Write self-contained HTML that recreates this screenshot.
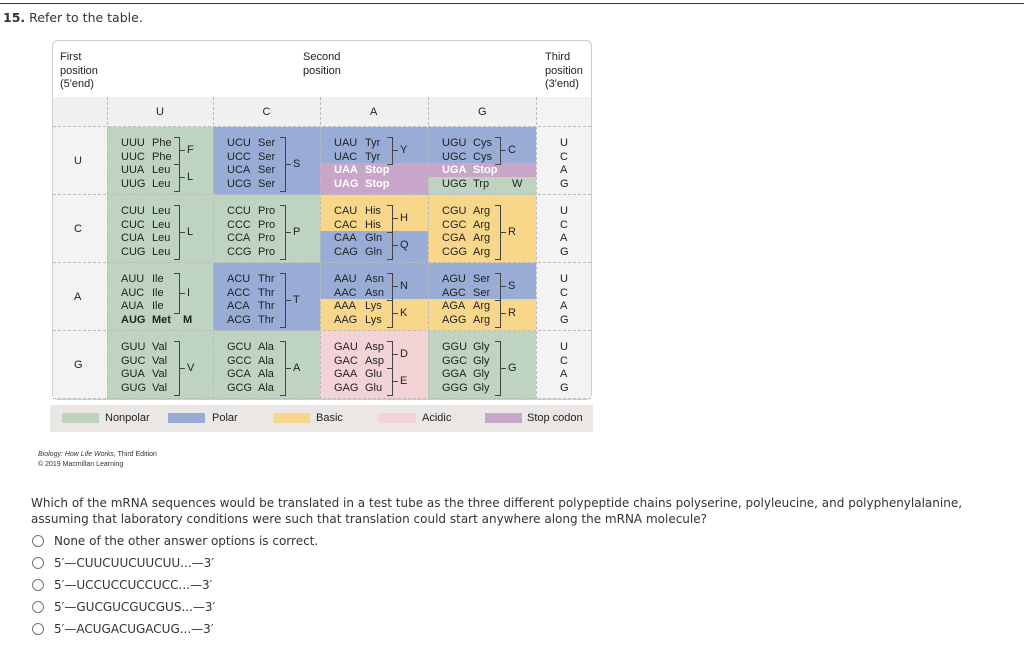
<!DOCTYPE html>
<html><head><meta charset="utf-8">
<style>
body{margin:0;width:1024px;height:648px;background:#fff;position:relative;overflow:hidden;font-family:"DejaVu Sans","Liberation Sans",sans-serif;}
.a{position:absolute;}
.t{position:absolute;font-family:"Liberation Sans",sans-serif;font-size:11px;color:#222;white-space:nowrap;line-height:12px;}
.q{position:absolute;font-size:12px;color:#333;white-space:nowrap;}
.radio{position:absolute;width:10px;height:10px;border:1.5px solid #777;border-radius:50%;}
</style></head><body>
<div class="a" style="left:0;top:3px;width:1024px;height:1px;background:#333"></div>
<div class="q" style="left:3px;top:10px;font-size:12.5px;"><b>15.</b> Refer to the table.</div>

<div id="table" class="a" style="left:52px;top:40px;width:540px;height:360px;border:1px solid #ccc;border-radius:6px;background:#fff;overflow:hidden;box-sizing:border-box"></div>
<div id="legend" class="a" style="left:50px;top:405px;width:543px;height:27px;background:#ebe7e5"></div>

<div class="t" style="left:38px;top:450px;font-size:7px;line-height:10px;color:#333"><i>Biology: How Life Works</i>, Third Edition<br>© 2019 Macmillan Learning</div>

<div class="q" style="left:31px;top:495px;line-height:16px;">Which of the mRNA sequences would be translated in a test tube as the three different polypeptide chains polyserine, polyleucine, and polyphenylalanine,<br>assuming that laboratory conditions were such that translation could start anywhere along the mRNA molecule?</div>

<div class="radio" style="left:32px;top:535px"></div>
<div class="q" style="left:54px;top:534px">None of the other answer options is correct.</div>
<div class="radio" style="left:32px;top:557px"></div>
<div class="q" style="left:54px;top:556px">5′—CUUCUUCUUCUU...—3′</div>
<div class="radio" style="left:32px;top:579px"></div>
<div class="q" style="left:54px;top:578px">5′—UCCUCCUCCUCC...—3′</div>
<div class="radio" style="left:32px;top:601px"></div>
<div class="q" style="left:54px;top:600px">5′—GUCGUCGUCGUS...—3′</div>
<div class="radio" style="left:32px;top:623px"></div>
<div class="q" style="left:54px;top:622px">5′—ACUGACUGACUG...—3′</div>

<script>
var bases=["U","C","A","G"];
var colX=[107,213,320,428,536];
var rowY=[127,195,263,331,399];
var COL={n:"#bfd3c1",p:"#98acd6",b:"#f9d78a",a:"#f4d3d6",s:"#c9a5c9"};
var aa3=[
 ["Phe","Phe","Leu","Leu","Ser","Ser","Ser","Ser","Tyr","Tyr","Stop","Stop","Cys","Cys","Stop","Trp"],
 ["Leu","Leu","Leu","Leu","Pro","Pro","Pro","Pro","His","His","Gln","Gln","Arg","Arg","Arg","Arg"],
 ["Ile","Ile","Ile","Met","Thr","Thr","Thr","Thr","Asn","Asn","Lys","Lys","Ser","Ser","Arg","Arg"],
 ["Val","Val","Val","Val","Ala","Ala","Ala","Ala","Asp","Asp","Glu","Glu","Gly","Gly","Gly","Gly"]];
var cls=[
 ["n","n","n","n","p","p","p","p","p","p","s","s","p","p","s","n"],
 ["n","n","n","n","n","n","n","n","b","b","p","p","b","b","b","b"],
 ["n","n","n","n","p","p","p","p","p","p","b","b","p","p","b","b"],
 ["n","n","n","n","n","n","n","n","a","a","a","a","n","n","n","n"]];
var groups=[[0,0,0,1,"F"],[0,0,2,3,"L"],[0,1,0,3,"S"],[0,2,0,1,"Y"],[0,3,0,1,"C"],
 [1,0,0,3,"L"],[1,1,0,3,"P"],[1,2,0,1,"H"],[1,2,2,3,"Q"],[1,3,0,3,"R"],
 [2,0,0,2,"I"],[2,1,0,3,"T"],[2,2,0,1,"N"],[2,2,2,3,"K"],[2,3,0,1,"S"],[2,3,2,3,"R"],
 [3,0,0,3,"V"],[3,1,0,3,"A"],[3,2,0,1,"D"],[3,2,2,3,"E"],[3,3,0,3,"G"]];
var lineOff=[16,30,43,57];
var segB=[0,22,36,50,68];
function mk(tag,l,t,w,h,bg){var d=document.createElement(tag);d.className="a";d.style.left=l+"px";d.style.top=t+"px";if(w!=null)d.style.width=w+"px";if(h!=null)d.style.height=h+"px";if(bg)d.style.background=bg;document.body.appendChild(d);return d;}
function txt(s,l,t,extra){var d=document.createElement("div");d.className="t";d.textContent=s;d.style.left=l+"px";d.style.top=t+"px";if(extra)d.style.cssText+=extra;document.body.appendChild(d);return d;}
var hb=mk("div",53,97,538,30,"#f0f0f0");


var fc=mk("div",53,127,54,272,"#f3f3f3");


var tc=mk("div",536,97,55,302,"#f3f3f3");


var h1=txt("First\nposition\n(5′end)",60,51,"white-space:pre;line-height:13.5px;");


var h2=txt("Second\nposition",303,51,"white-space:pre;line-height:13.5px;");


var h3=txt("Third\nposition\n(3′end)",545,51,"white-space:pre;line-height:13.5px;");


for(var c=0;c<4;c++){
 var hl=txt(bases[c],(colX[c]+colX[c+1])/2-4,106);
 
 
}
for(var r=0;r<4;r++){
 var fl=txt(bases[r],74,rowY[r]+28);
 
 
 for(var c=0;c<4;c++){
  for(var i=0;i<4;i++){
   var k=c*4+i;
   var seg=mk("div",colX[c],rowY[r]+segB[i],colX[c+1]-colX[c],segB[i+1]-segB[i],COL[cls[r][k]]);
   
   
  }
 }
 for(var i=0;i<4;i++){
  var th=txt(bases[i],560,rowY[r]+lineOff[i]-6);
  
  
 }
}
for(var r=0;r<5;r++){var g=mk("div",53,rowY[r]-1,538,0);g.style.borderTop="1px dashed #bbb";
 
 }
for(var c=0;c<5;c++){var g=mk("div",colX[c],97,0,302);g.style.borderLeft="1px dashed #bbb";
 
 }
for(var r=0;r<4;r++)for(var c=0;c<4;c++)for(var i=0;i<4;i++){
 var k=c*4+i,codon=bases[r]+bases[c]+bases[i],a=aa3[r][k];
 var stop=a=="Stop",met=a=="Met";
 var st=(stop?"color:#fff;font-weight:bold;":"")+(met?"font-weight:bold;":"");
 var y=rowY[r]+lineOff[i]-6;
 var t1=txt(codon,colX[c]+14,y,st);
 
 
 var t2=txt(a,colX[c]+45,y,st);
 
 
}
var m=txt("M",colX[0]+76,rowY[2]+51,"font-weight:bold");


var w=txt("W",colX[3]+84,rowY[0]+51);


groups.forEach(function(g){
 var x=colX[g[1]]+72,y1=rowY[g[0]]+lineOff[g[2]]-6,y2=rowY[g[0]]+lineOff[g[3]]+6;
 var b=mk("div",x-5,y1,5,y2-y1);b.style.border="1px solid #444";b.style.borderLeft="none";
 
 
 var tk=mk("div",x+1,(y1+y2)/2,5,1,"#444");
 
 
 var L=txt(g[4],x+8,(y1+y2)/2-6);
 
 
});
var lg=[["Nonpolar","n",62,105],["Polar","p",168,212],["Basic","b",273,316],["Acidic","a",379,422],["Stop codon","s",485,527]];
lg.forEach(function(e){
 var s=mk("div",e[2],413,37,10,COL[e[1]]);
 
 
 var t=txt(e[0],e[3],412,"font-size:11px");
 
 
});
</script>
</body></html>
